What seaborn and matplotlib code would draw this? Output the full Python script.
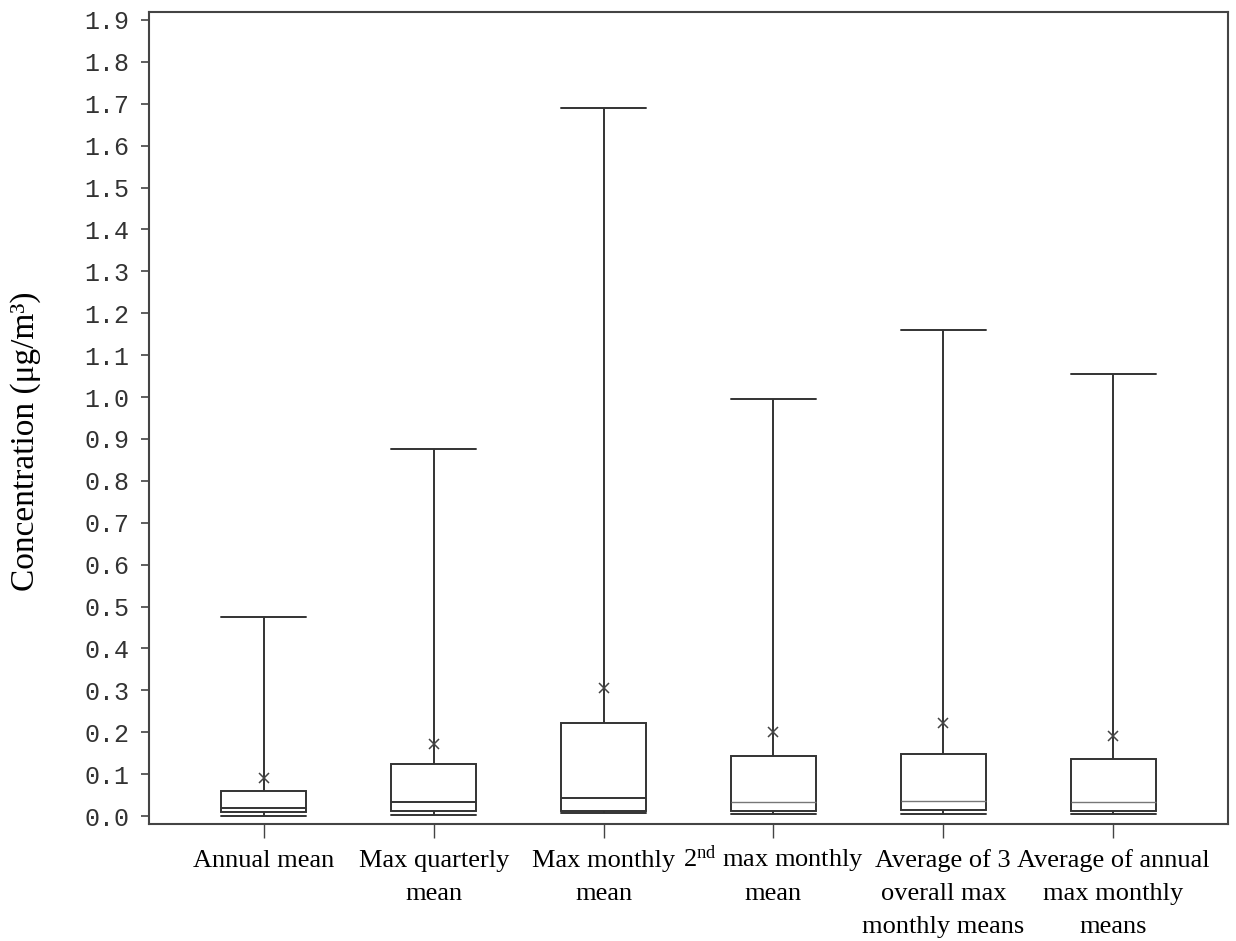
import numpy as np
import pandas as pd
import matplotlib
matplotlib.use('Agg')
import matplotlib.pyplot as plt
import matplotlib.transforms as mtransforms
import seaborn as sns

# ── Data ────────────────────────────────────────────────────────────────────
categories = [
    "Annual mean",
    "Max quarterly\nmean",
    "Max monthly\nmean",
    "2$^{\\mathrm{nd}}$ max monthly\nmean",
    "Average of 3\noverall max\nmonthly means",
    "Average of annual\nmax monthly\nmeans",
]
mins = [0.001, 0.003, 0.007, 0.004, 0.004, 0.005]
q1s = [0.009, 0.012, 0.013, 0.012, 0.014, 0.013]
medians = [0.018, 0.033, 0.043, 0.033, 0.036, 0.033]
q3s = [0.060, 0.124, 0.222, 0.143, 0.149, 0.135]
maxs = [0.475, 0.875, 1.690, 0.995, 1.160, 1.055]
means = [0.091, 0.172, 0.305, 0.201, 0.223, 0.191]
yticks = [round(0.1 * i, 1) for i in range(20)]

# five-number rows -> seaborn computes the same quartiles back
rows = []
for c, a, b, m, d, e in zip(categories, mins, q1s, medians, q3s, maxs):
    for v in (a, b, m, d, e):
        rows.append({"metric": c, "value": v})
box_df = pd.DataFrame(rows)
mean_df = pd.DataFrame({"metric": categories, "value": means})

# ── Style ───────────────────────────────────────────────────────────────────
sns.set_theme(style="ticks")
plt.rcParams['font.family'] = ['Liberation Serif', 'DejaVu Serif']
plt.rcParams['mathtext.fontset'] = 'custom'
plt.rcParams['mathtext.rm'] = 'Liberation Serif'
plt.rcParams['mathtext.it'] = 'Liberation Serif:italic'

W, H = 1236, 941
fig = plt.figure(figsize=(W / 100, H / 100), dpi=100)
ax = fig.add_axes([149 / W, 1 - 824 / H, (1228 - 149) / W, (824 - 12) / H])

line_col = '#333333'
sns.boxplot(data=box_df, x='metric', y='value', order=categories, whis=(0, 100),
            width=0.5, color='white', linecolor=line_col, linewidth=1.4,
            showfliers=False, ax=ax)

# caps as wide as the boxes, lighter medians on the last three
for ln in ax.lines:
    xd = np.asarray(ln.get_xdata(), dtype=float)
    yd = np.asarray(ln.get_ydata(), dtype=float)
    if len(xd) == 2 and yd[0] == yd[1] and xd[0] != xd[1]:
        c = xd.mean()
        ln.set_xdata([c - 0.25, c + 0.25])
        i = int(round(c))
        if i >= 3 and abs(yd[0] - medians[i]) < 1e-9:
            ln.set_color('#777777')
            ln.set_linewidth(1.0)

sns.pointplot(data=mean_df, x='metric', y='value', order=categories,
              color='#444444', marker='x', linestyle='none', errorbar=None,
              markersize=7, markeredgewidth=1.1, ax=ax)

ax.set_xlim(-0.676, 5.676)
ax.set_ylim(-0.019, 1.919)
ax.set_yticks(yticks)
ax.set_yticklabels([f"{v:.1f}" for v in yticks])
ax.set_xticks(range(len(categories)))
ax.set_xticklabels([''] * len(categories))
ax.set_xlabel('')
ax.set_ylabel('')
for s in ax.spines.values():
    s.set_visible(True)
    s.set_color('#444444')
    s.set_linewidth(1.5)

ax.tick_params(axis='y', length=6, width=1.2, color='#444444', pad=8)
ax.tick_params(axis='x', length=10, width=1.0, color='#444444')
for lab in ax.get_yticklabels():
    lab.set_fontfamily('Liberation Mono')
    lab.set_fontsize(18)
    lab.set_color('#333333')

# category names, line by line on fixed baselines
trans = mtransforms.blended_transform_factory(ax.transData, fig.transFigure)
baselines = [867, 900, 933]
for i, name in enumerate(categories):
    for j, part in enumerate(name.split('\n')):
        ax.text(i, 1 - baselines[j] / H, part, transform=trans, ha='center',
                va='baseline', fontsize=19, color='black', clip_on=False)

fig.text(26 / W, 1 - 441 / H, 'Concentration (μg/m³)', rotation=90,
         ha='center', va='center', fontsize=24, color='black')

fig.savefig('out.png', dpi=100)
